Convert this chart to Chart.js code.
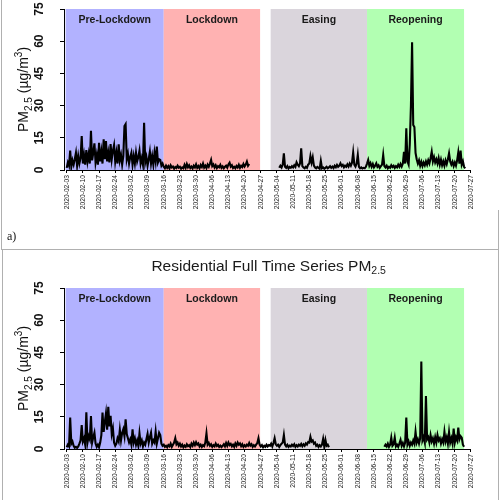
<!DOCTYPE html>
<html><head><meta charset="utf-8">
<script src="https://cdn.jsdelivr.net/npm/chart.js@4.4.1/dist/chart.umd.min.js"></script>
<style>
html,body{margin:0;padding:0;background:#fff;}
#wrap{position:relative;width:500px;height:500px;overflow:hidden;background:#fff;}
canvas{position:absolute;left:0;}
</style></head><body>
<div id="wrap">
<canvas id="topChart" width="500" height="250" style="top:0px"></canvas>
<canvas id="bottomChart" width="500" height="250" style="top:250px"></canvas>
</div>
<script>
// ---------- data ----------
const originDate = '2020-02-03';
const xTickDates = ['2020-02-03','2020-02-10','2020-02-17','2020-02-24','2020-03-02','2020-03-09','2020-03-16',
  '2020-03-23','2020-03-30','2020-04-06','2020-04-13','2020-04-20','2020-04-27','2020-05-04','2020-05-11',
  '2020-05-18','2020-05-25','2020-06-01','2020-06-08','2020-06-15','2020-06-22','2020-06-29','2020-07-06',
  '2020-07-13','2020-07-20','2020-07-27'];
const yTicks = [0, 15, 30, 45, 60, 75];
const phaseNames = ['Pre-Lockdown', 'Lockdown', 'Easing', 'Reopening'];
const phaseStarts = ['2020-02-02T13:00', '2020-03-16T00:00', '2020-05-01T07:00', '2020-06-12T00:00'];
const phaseEnds = ['2020-03-16T00:00', '2020-04-26T17:00', '2020-06-12T00:00', '2020-07-24T00:00'];
const phaseColors = ['#B2B2FF', '#FFB2B2', '#DAD5DC', '#B2FFB2'];
const sampleHours = 12;
const bottomTitle = 'Residential Full Time Series PM';
const panelLabel = 'a)';

// top panel (values every 12 h)
const topPreStart = '2020-02-03T00:00';
const topPre = [1.0,3.5,2.0,9.0,1.5,4.5,2.5,5.0,8.0,2.0,6.5,3.0,5.5,15.8,3.0,7.0,2.5,9.3,4.0,7.5,
  3.0,18.3,4.5,8.0,12.4,3.5,7.0,2.5,12.7,4.0,8.5,3.0,14.3,5.0,13.5,4.0,8.0,3.5,12.1,5.0,
  9.0,11.6,4.0,8.0,3.0,12.0,4.5,7.0,2.5,6.5,20.5,21.4,5.0,7.5,3.0,6.0,8.0,2.5,6.5,3.0,
  8.0,4.0,6.0,9.0,3.0,5.5,2.5,22.0,3.5,6.0,2.0,5.0,8.5,3.0,6.5,2.5,8.0,4.0,10.9,3.5,
  5.0,4.7,2.0,3.0];
const topLockStart = '2020-03-16T00:00';
const topLock = [1.5,0.8,2.0,1.0,1.8,0.7,2.2,1.2,1.6,0.6,1.4,0.9,2.0,1.1,1.5,0.6,1.2,0.8,2.4,1.0,
  2.8,1.3,2.2,0.9,1.6,0.7,2.0,1.2,2.6,1.0,1.8,0.8,2.3,1.4,3.0,1.1,2.0,0.9,2.5,1.5,
  3.0,4.7,1.8,2.6,1.2,2.2,0.9,1.8,1.3,2.4,1.0,1.7,0.8,1.5,2.0,1.1,2.6,3.4,1.6,2.2,
  0.9,1.5,0.8,1.9,1.2,2.4,1.0,2.0,1.4,2.8,1.6,2.5,3.9,2.0,2.8];
const topEasingStart = '2020-05-05T00:00';
const topEasing = [1.0,2.0,1.2,2.5,7.8,1.5,1.0,1.8,0.7,1.4,1.0,1.8,1.2,2.2,1.5,3.6,2.5,1.8,3.0,10.1,
  1.8,1.2,0.8,1.5,1.0,2.5,3.0,6.5,3.5,5.9,2.0,1.2,0.8,1.4,1.0,0.6,4.2,0.8,1.2,0.6,
  1.0,1.5,0.8,1.2,1.8,1.0,1.6,0.9,2.0,1.3,2.4,1.5,2.0,3.1,1.8,2.4,1.2,2.0,1.5,2.6,
  1.6,3.0,2.0,3.4,8.1,2.5,1.6,3.0,7.0,1.5,0.8,1.2,0.7,1.0,0.8,1.5];
const topReopenStart = '2020-06-12T00:00';
const topReopen = [3.0,4.7,2.0,3.2,1.5,2.8,1.2,2.0,3.1,1.5,2.2,1.0,1.8,2.5,7.0,1.8,1.2,2.0,0.8,1.5,
  1.0,2.2,1.4,2.0,1.0,1.8,1.2,2.5,1.5,2.8,1.6,3.0,8.5,3.0,19.4,4.0,2.5,12.0,29.8,59.5,
  21.0,20.0,8.0,5.0,3.0,4.5,2.0,3.8,1.8,3.5,2.2,4.0,2.5,4.5,3.0,5.5,8.5,4.0,6.0,3.5,
  5.0,3.0,5.5,2.5,4.8,2.2,4.0,2.0,4.5,2.8,5.0,7.8,4.0,2.5,3.8,1.8,3.5,2.0,4.5,8.2,
  3.0,9.0,2.5,4.0,1.5,0.8];

// bottom panel (values every 12 h)
const botPreStart = '2020-02-03T00:00';
const botPre = [0.8,2.0,1.2,14.6,2.5,3.5,1.5,0.6,1.0,0.5,1.2,2.5,4.0,11.2,3.5,5.0,2.0,17.1,3.0,6.0,
  4.5,15.4,3.0,5.5,7.6,2.5,1.0,2.0,0.8,3.0,6.5,17.0,8.0,12.5,16.6,9.0,19.7,10.5,15.5,7.0,
  9.6,3.0,1.5,2.5,5.0,3.5,8.9,4.0,7.5,9.2,6.0,13.8,7.0,5.0,3.0,4.5,2.0,9.2,3.0,5.0,
  2.0,4.0,1.5,7.3,2.5,4.0,1.2,3.0,2.0,4.5,7.0,3.0,5.5,7.6,2.5,4.0,3.0,8.1,2.5,5.0,
  7.6,6.5,2.5,1.5];
const botLockStart = '2020-03-16T00:00';
const botLock = [2.0,1.0,1.5,0.8,1.8,1.2,2.5,1.0,2.0,3.0,5.0,2.2,3.0,1.5,2.5,1.2,2.0,0.8,1.6,1.0,
  2.2,1.3,1.8,0.9,2.5,1.5,3.0,1.8,3.2,2.0,2.6,1.2,2.0,1.0,1.8,1.3,3.0,7.3,2.0,2.8,
  1.5,2.2,1.0,1.8,1.2,2.5,1.4,2.0,1.0,1.6,0.9,1.5,2.2,1.2,2.8,1.5,3.0,1.8,2.4,1.2,
  2.0,1.0,2.6,1.5,3.0,2.0,2.6,1.3,2.2,1.0,1.8,1.2,2.0,1.5,2.8,1.6,2.2,1.0,1.8,1.2,
  2.0,2.8,5.0,2.0,1.2,1.8,0.8,1.5,1.0,2.0,1.2,1.8];
const botEasingStart = '2020-05-01T00:00';
const botEasing = [1.5,2.5,1.2,2.8,5.0,2.2,1.5,2.0,1.0,1.8,2.5,3.0,6.5,2.0,1.2,2.0,1.0,1.6,1.2,2.0,
  1.4,2.2,1.0,1.8,1.2,2.0,1.5,2.4,1.3,2.2,1.5,2.6,2.0,3.2,3.0,5.7,3.5,4.0,2.5,3.0,
  1.5,2.0,1.0,1.8,1.2,2.0,4.7,1.0,4.2,1.5,2.0,0.8];
const botReopenStart = '2020-06-19T12:00';
const botReopen = [1.0,2.0,1.2,2.5,1.0,2.0,5.3,1.5,2.2,5.3,1.2,2.0,1.0,2.5,4.2,1.5,2.8,1.2,3.0,14.6,
  2.0,3.5,1.5,3.0,2.0,4.0,2.5,8.0,3.0,4.5,2.5,5.0,40.7,4.0,5.5,3.0,24.7,4.5,5.5,3.0,
  6.5,3.5,5.0,2.5,5.5,3.0,6.5,4.0,5.0,2.5,4.5,3.0,8.0,3.5,5.5,2.5,7.8,3.0,5.0,2.5,
  9.5,3.0,5.5,4.0,10.0,4.5,6.0,5.3,2.0,1.0];

// ---------- helpers ----------
const ORIGIN_MS = Date.parse(originDate + 'T00:00Z');
function toDay(s) { return (Date.parse((s.length === 10 ? s + 'T00:00' : s) + 'Z') - ORIGIN_MS) / 864e5; }
function dayLabel(v) { return new Date(ORIGIN_MS + Math.round(v * 864e5)).toISOString().slice(0, 10); }
function buildSeries(parts) {
  const pts = []; let lastX = null; const step = sampleHours / 24;
  parts.forEach(([start, vals]) => {
    const d0 = toDay(start);
    if (lastX !== null && d0 - lastX > step + 0.01) pts.push({ x: (lastX + d0) / 2, y: null });
    vals.forEach((v, i) => pts.push({ x: d0 + i * step, y: v }));
    lastX = d0 + (vals.length - 1) * step;
  });
  return pts;
}

const SANS = '"Liberation Sans", Arial, sans-serif';

function drawYTitle(ctx, cx, cy) {
  const big = '14px ' + SANS, small = '10px ' + SANS;
  const parts = [['PM', big, 0], ['2.5', small, 3.5], [' (\u00b5g/m', big, 0], ['3', small, -6], [')', big, 0]];
  ctx.save();
  ctx.translate(cx, cy); ctx.rotate(-Math.PI / 2);
  ctx.fillStyle = '#111'; ctx.textBaseline = 'alphabetic'; ctx.textAlign = 'left';
  let total = 0;
  parts.forEach(p => { ctx.font = p[1]; total += ctx.measureText(p[0]).width; });
  let x = -total / 2;
  parts.forEach(p => { ctx.font = p[1]; ctx.fillText(p[0], x, p[2]); x += ctx.measureText(p[0]).width; });
  ctx.restore();
}

function decorPlugin(cfg) {
  return {
    id: 'decor',
    beforeDatasetsDraw(chart) {
      const { ctx, scales: { x, y } } = chart;
      const yt = y.getPixelForValue(75), yb = y.getPixelForValue(0);
      ctx.save();
      for (let i = 0; i < phaseNames.length; i++) {
        const x0 = x.getPixelForValue(toDay(phaseStarts[i]));
        const x1 = x.getPixelForValue(toDay(phaseEnds[i]));
        ctx.fillStyle = phaseColors[i];
        ctx.fillRect(x0, yt, x1 - x0, yb - yt);
        ctx.fillStyle = '#1a1a1a';
        ctx.font = 'bold 10.5px ' + SANS;
        ctx.textAlign = 'center'; ctx.textBaseline = 'middle';
        ctx.fillText(phaseNames[i], (x0 + x1) / 2, yt + 11.5);
      }
      ctx.restore();
    },
    afterDraw(chart) {
      const { ctx, chartArea, scales: { x, y } } = chart;
      ctx.save();
      const xa = x.getPixelForValue(toDay(xTickDates[0]));
      const xb = x.getPixelForValue(toDay(xTickDates[xTickDates.length - 1]));
      ctx.strokeStyle = '#000'; ctx.lineWidth = 1;
      ctx.beginPath(); ctx.moveTo(xa, Math.round(chartArea.bottom) + 0.5); ctx.lineTo(xb, Math.round(chartArea.bottom) + 0.5); ctx.stroke();
      ctx.fillStyle = '#111'; ctx.font = 'bold 12px ' + SANS;
      ctx.textAlign = 'center'; ctx.textBaseline = 'middle';
      yTicks.forEach(v => {
        ctx.save();
        ctx.translate(40, y.getPixelForValue(v));
        ctx.rotate(-Math.PI / 2);
        ctx.fillText(String(v), 0, 0);
        ctx.restore();
      });
      drawYTitle(ctx, 28, (chartArea.top + chartArea.bottom) / 2);
      ctx.strokeStyle = '#b0b0b0'; ctx.lineWidth = 1;
      ctx.beginPath();
      cfg.frame.forEach(s => { ctx.moveTo(s[0], s[1]); ctx.lineTo(s[2], s[3]); });
      ctx.stroke();
      if (cfg.title) {
        const cxm = (chartArea.left + chartArea.right) / 2;
        const fMain = '15.5px ' + SANS, fSub = '10.5px ' + SANS;
        ctx.font = fMain; const w1 = ctx.measureText(cfg.title).width;
        ctx.font = fSub; const w2 = ctx.measureText('2.5').width;
        const x0 = cxm - (w1 + w2) / 2;
        ctx.fillStyle = '#1a1a1a'; ctx.textAlign = 'left'; ctx.textBaseline = 'alphabetic';
        ctx.font = fMain; ctx.fillText(cfg.title, x0, 20.7);
        ctx.font = fSub; ctx.fillText('2.5', x0 + w1, 23.7);
      }
      if (cfg.label) {
        ctx.fillStyle = '#111'; ctx.font = '12px "Liberation Serif", "Times New Roman", serif';
        ctx.textAlign = 'left'; ctx.textBaseline = 'alphabetic';
        ctx.fillText(cfg.label, 7, 240);
      }
      ctx.restore();
    }
  };
}

function makeChart(canvasId, series, cfg) {
  return new Chart(document.getElementById(canvasId), {
    type: 'line',
    data: { datasets: [{ data: series, borderColor: '#000', borderWidth: 2.1, pointRadius: 0, tension: 0, spanGaps: false, fill: false }] },
    options: {
      responsive: false, animation: false, devicePixelRatio: 1,
      layout: { padding: { left: 0, right: 26.7, top: cfg.padTop, bottom: 0 } },
      plugins: { legend: { display: false }, tooltip: { enabled: false }, title: { display: false } },
      scales: {
        x: {
          type: 'linear', min: -1.17, max: 176,
          afterBuildTicks: s => { s.ticks = xTickDates.map(d => ({ value: toDay(d) })); },
          afterFit: s => { s.height = cfg.axisH; },
          grid: { drawOnChartArea: false, drawTicks: true, tickLength: 3, color: '#000' },
          border: { display: false },
          ticks: { autoSkip: false, minRotation: 90, maxRotation: 90, padding: 2, color: '#222',
            font: { family: SANS, size: 6.7 }, callback: v => dayLabel(v) }
        },
        y: {
          min: 0, max: 75,
          afterBuildTicks: s => { s.ticks = yTicks.map(v => ({ value: v })); },
          afterFit: s => { s.width = 64; },
          grid: { drawOnChartArea: false, drawTicks: true, tickLength: 4, color: '#000' },
          border: { display: true, color: '#000', width: 1 },
          ticks: { display: false }
        }
      }
    },
    plugins: [decorPlugin(cfg)]
  });
}

const topSeries = buildSeries([[topPreStart, topPre], [topLockStart, topLock], [topEasingStart, topEasing], [topReopenStart, topReopen]]);
const bottomSeries = buildSeries([[botPreStart, botPre], [botLockStart, botLock], [botEasingStart, botEasing], [botReopenStart, botReopen]]);

makeChart('topChart', topSeries, {
  padTop: 9, axisH: 80, label: panelLabel,
  frame: [[1.5, 0, 1.5, 249.5], [1, 249.5, 499, 249.5], [498.5, 210, 498.5, 250]]
});
makeChart('bottomChart', bottomSeries, {
  padTop: 38, axisH: 51, title: bottomTitle,
  frame: [[2.5, 0, 2.5, 250], [498.5, 0, 498.5, 250]]
});
</script>
</body></html>
